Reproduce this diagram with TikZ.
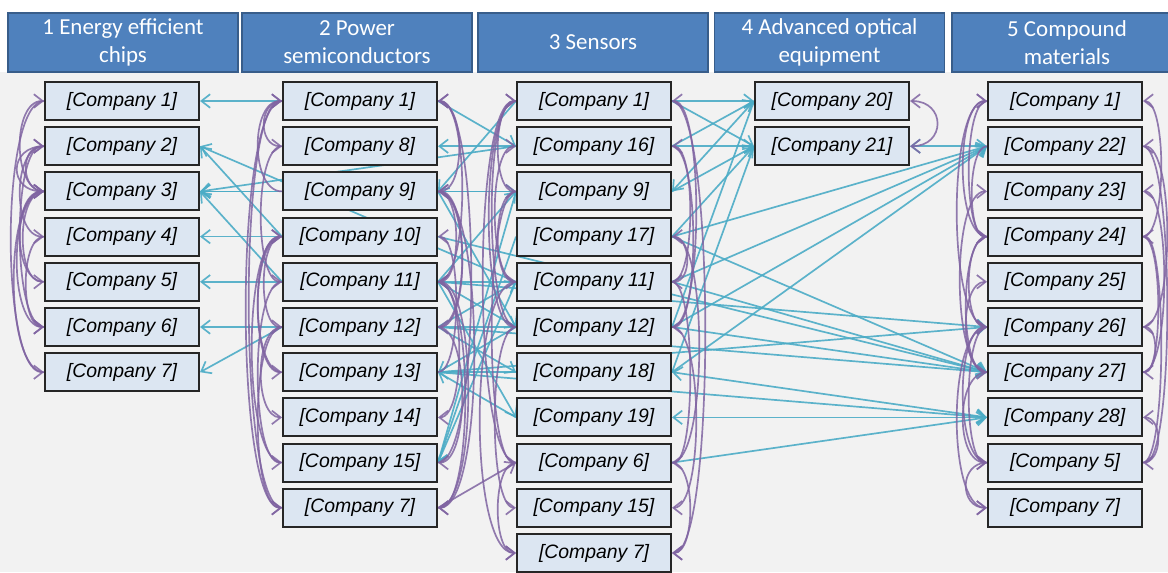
\documentclass[tikz,border=0pt]{standalone}
\usepackage{fontspec}
\usepackage{tikz}
\usetikzlibrary{arrows.meta}
\usetikzlibrary{backgrounds}
\usepackage{xcolor}

\newfontfamily\firmfam{Liberation Sans}
\newfontfamily\headfam{Carlito}

\definecolor{headfill}{HTML}{4F81BD}
\definecolor{headline}{HTML}{385D8A}
\definecolor{boxfill}{HTML}{DCE6F2}
\definecolor{boxline}{HTML}{262626}
\definecolor{tealc}{HTML}{4BACC6}
\definecolor{purpc}{HTML}{8064A2}
\definecolor{paper}{HTML}{F2F2F2}

\tikzset{
	head/.style={draw=headline, line width=1pt, fill=headfill, text=white, align=center,
		font=\headfam\fontsize{16.3}{20}\selectfont, minimum width=5.75cm, minimum height=1.475cm, inner sep=0pt},
	firm/.style={draw=boxline, line width=1.4pt, fill=boxfill, minimum width=3.85cm,
		minimum height=0.95cm, inner sep=0pt, font=\firmfam\itshape\fontsize{13.8}{16}\selectfont},
	xlink/.style={draw=tealc, line width=1.2pt, opacity=.9, ->},
	plink/.style={draw=purpc, line width=1.2pt, opacity=.85, ->},
	wlink/.style={plink, out=180, in=180, distance=#1},
	wlink/.default=0.8cm,
	elink/.style={plink, out=0, in=0, distance=#1},
	elink/.default=0.8cm,
}

\begin{document}
\begin{tikzpicture}[x=0.025cm, y=-0.025cm, >={Straight Barb[length=2.2mm,width=3.4mm]}]
	
	\useasboundingbox (0,0) rectangle (1168,572);
	
	% headers
	\node[head] (h1) at (123,42.5) {1 Energy efficient\\chips};
	\node[head] (h2) at (357,42.5) {2 Power\\semiconductors};
	\node[head] (h3) at (593,42.5) {3 Sensors};
	\node[head] (h4) at (829.5,42.5) {4 Advanced optical\\equipment};
	\node[head] (h5) at (1067,42.5) {5 Compound\\materials};
	
	% 1 energy efficient chips
	\node[firm] (ch1) at (122,101) {[Company 1]};
	\node[firm] (ch2) at (122,146.2) {[Company 2]};
	\node[firm] (ch3) at (122,191.4) {[Company 3]};
	\node[firm] (ch4) at (122,236.6) {[Company 4]};
	\node[firm] (ch5) at (122,281.8) {[Company 5]};
	\node[firm] (ch6) at (122,327) {[Company 6]};
	\node[firm] (ch7) at (122,372.2) {[Company 7]};
	
	% 2 power semiconductors
	\node[firm] (pw1) at (360,101) {[Company 1]};
	\node[firm] (pw2) at (360,146.2) {[Company 8]};
	\node[firm] (pw3) at (360,191.4) {[Company 9]};
	\node[firm] (pw4) at (360,236.6) {[Company 10]};
	\node[firm] (pw5) at (360,281.8) {[Company 11]};
	\node[firm] (pw6) at (360,327) {[Company 12]};
	\node[firm] (pw7) at (360,372.2) {[Company 13]};
	\node[firm] (pw8) at (360,417.4) {[Company 14]};
	\node[firm] (pw9) at (360,462.6) {[Company 15]};
	\node[firm] (pw10) at (360,507.8) {[Company 7]};
	
	% 3 sensors
	\node[firm] (se1) at (594,101) {[Company 1]};
	\node[firm] (se2) at (594,146.2) {[Company 16]};
	\node[firm] (se3) at (594,191.4) {[Company 9]};
	\node[firm] (se4) at (594,236.6) {[Company 17]};
	\node[firm] (se5) at (594,281.8) {[Company 11]};
	\node[firm] (se6) at (594,327) {[Company 12]};
	\node[firm] (se7) at (594,372.2) {[Company 18]};
	\node[firm] (se8) at (594,417.4) {[Company 19]};
	\node[firm] (se9) at (594,462.6) {[Company 6]};
	\node[firm] (se10) at (594,507.8) {[Company 15]};
	\node[firm] (se11) at (594,553) {[Company 7]};
	
	% 4 advanced optical equipment
	\node[firm] (op1) at (832,101) {[Company 20]};
	\node[firm] (op2) at (832,146.2) {[Company 21]};
	
	% 5 compound materials
	\node[firm] (cm1) at (1065,101) {[Company 1]};
	\node[firm] (cm2) at (1065,146.2) {[Company 22]};
	\node[firm] (cm3) at (1065,191.4) {[Company 23]};
	\node[firm] (cm4) at (1065,236.6) {[Company 24]};
	\node[firm] (cm5) at (1065,281.8) {[Company 25]};
	\node[firm] (cm6) at (1065,327) {[Company 26]};
	\node[firm] (cm7) at (1065,372.2) {[Company 27]};
	\node[firm] (cm8) at (1065,417.4) {[Company 28]};
	\node[firm] (cm9) at (1065,462.6) {[Company 5]};
	\node[firm] (cm10) at (1065,507.8) {[Company 7]};
	
	\begin{scope}[on background layer]
		% paper
		\fill[paper] (0,72) rectangle (1168,572);
		
		% links between technologies
		\draw[xlink] (pw1.west) -- (ch1.east);
		\draw[xlink] (pw4.west) -- (ch2.east);
		\draw[xlink] (se5.west) -- (ch2.east);
		\draw[xlink] (pw3.west) -- (ch3.east);
		\draw[xlink] (se2.west) -- (ch3.east);
		\draw[xlink] (se3.west) -- (ch3.east);
		\draw[xlink] (pw5.west) -- (ch3.east);
		\draw[xlink] (pw4.west) -- (ch4.east);
		\draw[xlink] (pw5.west) -- (ch5.east);
		\draw[xlink] (pw6.west) -- (ch6.east);
		\draw[xlink] (pw6.west) -- (ch7.east);
		
		\draw[xlink] (pw1.east) -- (se2.west);
		\draw[xlink] (se2.west) -- (pw2.east);
		\draw[xlink] (pw3.east) -- (se3.west);
		\draw[xlink] (se1.west) -- (pw3.east);
		\draw[xlink] (pw5.east) -- (se3.west);
		\draw[xlink] (se5.west) -- (pw5.east);
		\draw[xlink] (pw6.east) -- (se5.west);
		\draw[xlink] (pw5.east) -- (se6.west);
		\draw[xlink] (pw6.east) -- (se6.west);
		\draw[xlink] (pw3.east) -- (se6.west);
		\draw[xlink] (se6.west) -- (pw7.east);
		\draw[xlink] (se7.west) -- (pw7.east);
		\draw[xlink] (se8.west) -- (pw7.east);
		\draw[xlink] (pw6.east) -- (se7.west);
		\draw[xlink] (pw5.east) -- (se8.west);
		\draw[xlink] (se3.west) -- (pw9.east);
		\draw[xlink] (se4.west) -- (pw9.east);
		\draw[xlink] (se5.west) -- (pw9.east);
		
		\draw[xlink] (se1.east) -- (op1.west);
		\draw[xlink] (se2.east) -- (op1.west);
		\draw[xlink] (se6.east) -- (op1.west);
		\draw[xlink] (se1.east) -- (op2.west);
		\draw[xlink] (se2.east) -- (op2.west);
		\draw[xlink] (se3.east) -- (op2.west);
		\draw[xlink] (se4.east) -- (op2.west);
		\draw[xlink] (se7.east) -- (op2.west);
		\draw[xlink] (op1.west) -- (se3.east);
		\draw[xlink,<->] (op2.east) -- (cm2.west);
		
		\draw[xlink] (se4.east) -- (cm2.west);
		\draw[xlink] (se5.east) -- (cm2.west);
		\draw[xlink] (se6.east) -- (cm2.west);
		\draw[xlink] (se7.east) -- (cm2.west);
		\draw[xlink] (pw5.east) -- (cm6.west);
		\draw[xlink] (pw7.east) -- (cm6.west);
		\draw[xlink] (se5.east) -- (cm7.west);
		\draw[xlink] (pw4.east) -- (cm7.west);
		\draw[xlink] (pw6.east) -- (cm7.west);
		\draw[xlink] (se4.east) -- (cm7.west);
		\draw[xlink] (se6.east) -- (cm7.west);
		\draw[xlink,<->] (se7.east) -- (cm8.west);
		\draw[xlink] (pw7.east) -- (cm8.west);
		\draw[xlink,<->] (se8.east) -- (cm8.west);
		\draw[xlink] (se9.east) -- (cm8.west);
		
		% links inside a technology
		\draw[wlink] (ch3.west) to (ch1.west);
		\draw[wlink=1.1cm] (ch1.west) to (ch7.west);
		\draw[wlink=0.6cm] (ch3.west) to (ch2.west);
		\draw[wlink=0.9cm] (ch2.west) to (ch3.west);
		\draw[wlink] (ch6.west) to (ch2.west);
		\draw[wlink] (ch5.west) to (ch3.west);
		\draw[wlink=1cm] (ch7.west) to (ch3.west);
		\draw[wlink] (ch2.west) to (ch4.west);
		\draw[wlink=0.7cm] (ch3.west) to (ch5.west);
		\draw[wlink=0.9cm] (ch3.west) to (ch6.west);
		\draw[wlink=0.6cm] (ch4.west) to (ch6.west);
		
		\draw[wlink] (pw3.west) to (pw1.west);
		\draw[wlink=0.6cm] (pw1.west) to (pw2.west);
		\draw[wlink=1.1cm] (pw10.west) to (pw1.west);
		\draw[wlink] (pw7.west) to (pw4.west);
		\draw[wlink=1cm] (pw9.west) to (pw4.west);
		\draw[wlink=0.7cm] (pw2.west) to (pw5.west);
		\draw[wlink=0.6cm] (pw4.west) to (pw6.west);
		\draw[wlink] (pw4.west) to (pw7.west);
		\draw[wlink=0.7cm] (pw6.west) to (pw8.west);
		\draw[wlink] (pw5.west) to (pw9.west);
		\draw[wlink=1.2cm] (pw1.west) to (pw10.west);
		\draw[wlink] (pw6.west) to (pw10.west);
		
		\draw[elink] (pw5.east) to (pw1.east);
		\draw[elink=1.1cm] (pw9.east) to (pw1.east);
		\draw[elink=0.7cm] (pw1.east) to (pw3.east);
		\draw[elink] (pw6.east) to (pw3.east);
		\draw[elink=0.6cm] (pw7.east) to (pw4.east);
		\draw[elink=0.6cm] (pw3.east) to (pw5.east);
		\draw[elink=1cm] (pw10.east) to (pw5.east);
		\draw[elink] (pw3.east) to (pw6.east);
		\draw[elink=0.7cm] (pw5.east) to (pw8.east);
		\draw[elink] (pw6.east) to (pw9.east);
		\draw[elink=0.9cm] (pw5.east) to (pw10.east);
		\draw[elink=1.2cm] (pw3.east) to (pw10.east);
		
		\draw[plink] (pw10.east) -- (se9.west);
		
		\draw[wlink] (se6.west) to (se1.west);
		\draw[wlink=1.1cm] (se9.west) to (se1.west);
		\draw[wlink=0.7cm] (se5.west) to (se2.west);
		\draw[wlink=0.6cm] (se1.west) to (se3.west);
		\draw[wlink=0.6cm] (se3.west) to (se5.west);
		\draw[wlink=0.9cm] (se1.west) to (se6.west);
		\draw[wlink] (se3.west) to (se9.west);
		\draw[wlink=0.7cm] (se6.west) to (se10.west);
		\draw[wlink=1.2cm] (se5.west) to (se11.west);
		\draw[wlink=0.6cm] (se9.west) to (se11.west);
		
		\draw[elink] (se6.east) to (se1.east);
		\draw[elink=0.6cm] (se5.east) to (se2.east);
		\draw[elink=0.9cm] (se9.east) to (se4.east);
		\draw[elink=0.5cm] (se4.east) to (se5.east);
		\draw[elink=0.7cm] (se2.east) to (se6.east);
		\draw[elink=0.6cm] (se5.east) to (se9.east);
		\draw[elink=0.8cm] (se6.east) to (se10.east);
		\draw[elink=0.6cm] (se9.east) to (se11.east);
		\draw[elink=1.1cm] (se1.east) to (se11.east);
		
		\draw[elink=0.9cm,<->] (op1.east) to (op2.east);
		
		\draw[wlink] (cm4.west) to (cm1.west);
		\draw[wlink=1cm] (cm6.west) to (cm1.west);
		\draw[wlink=0.9cm] (cm7.west) to (cm3.west);
		\draw[wlink=0.6cm] (cm1.west) to (cm4.west);
		\draw[wlink=0.5cm] (cm2.west) to (cm4.west);
		\draw[wlink=0.7cm] (cm7.west) to (cm5.west);
		\draw[wlink=0.6cm] (cm4.west) to (cm6.west);
		\draw[wlink] (cm9.west) to (cm6.west);
		\draw[wlink=0.7cm] (cm4.west) to (cm7.west);
		\draw[wlink=0.6cm] (cm6.west) to (cm9.west);
		\draw[wlink] (cm7.west) to (cm9.west);
		\draw[wlink=0.7cm] (cm9.west) to (cm10.west);
		\draw[wlink=1cm] (cm6.west) to (cm10.west);
		
		\draw[elink=0.6cm] (cm4.east) to (cm1.east);
		\draw[elink=0.8cm] (cm6.east) to (cm2.east);
		\draw[elink=0.7cm] (cm7.east) to (cm3.east);
		\draw[elink=0.6cm] (cm9.east) to (cm4.east);
		\draw[elink=0.5cm] (cm4.east) to (cm7.east);
		\draw[elink=0.4cm] (cm7.east) to (cm6.east);
		\draw[elink=0.5cm] (cm9.east) to (cm8.east);
		\draw[elink=0.8cm] (cm2.east) to (cm9.east);
	\end{scope}
	
\end{tikzpicture}
\end{document}
